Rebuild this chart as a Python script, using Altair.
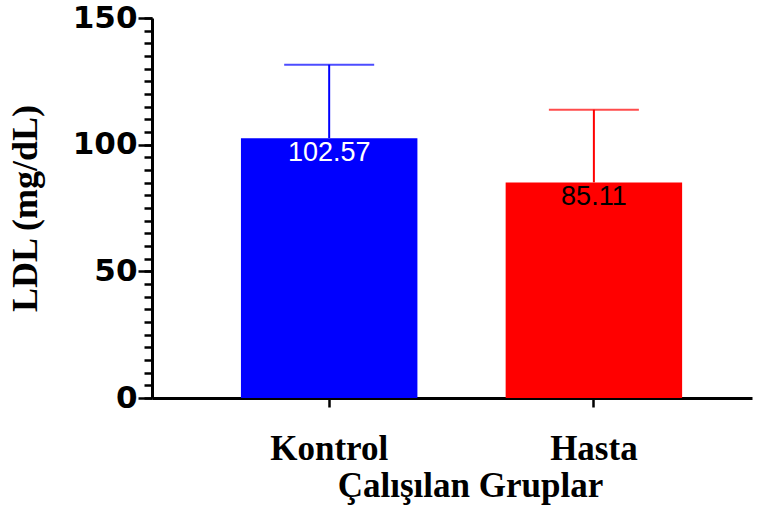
import altair as alt
import pandas as pd

# Group means and standard deviations of LDL (mg/dL)
groups = ["Kontrol", "Hasta"]
means = [102.57, 85.11]
sds = [29.0, 28.7]
bar_colors = ["#0000FF", "#FF0000"]
label_colors = ["#FFFFFF", "#000000"]

df = pd.DataFrame({
    "grup": groups,
    "ldl": means,
    "sd": sds,
    "renk": bar_colors,
    "yazi": label_colors,
})
df["ust"] = df["ldl"] + df["sd"]
df["etiket"] = df["ldl"].map(lambda v: f"{v:.2f}")

x_scale = alt.Scale(domain=groups, paddingInner=1/3, paddingOuter=0.3, align=0.56)
y_scale = alt.Scale(domain=[0, 150], nice=False)

x_axis = alt.Axis(
    title="Çalışılan Gruplar", labelAngle=0,
    labelFont="Liberation Serif", labelFontWeight="bold", labelFontSize=35,
    labelColor="black", labelPadding=24,
    titleFont="Liberation Serif", titleFontWeight="bold", titleFontSize=35,
    titleColor="black", titlePadding=2, titleX=318,
    domainColor="black", domainWidth=3, tickColor="black", tickWidth=2.5, tickSize=9,
    grid=False,
)


def x_enc():
    return alt.X("grup:N", scale=x_scale, sort=groups, axis=x_axis)


bars = alt.Chart(df).mark_bar().encode(
    x=x_enc(),
    y=alt.Y(
        "ldl:Q", scale=y_scale,
        axis=alt.Axis(
            title="LDL (mg/dL)", orient="left", values=[0, 50, 100, 150],
            labelFont="DejaVu Sans", labelFontWeight="bold", labelFontSize=31,
            labelColor="black", labelPadding=1,
            titleFont="Liberation Serif", titleFontWeight="bold", titleFontSize=36,
            titleColor="black", titlePadding=28,
            domainColor="black", domainWidth=3, tickColor="black", tickWidth=2.5, tickSize=14,
            grid=False,
        ),
    ),
    color=alt.Color("renk:N", scale=None),
)

# Minor ticks every 5 units on the value axis
minor = alt.Chart(df).mark_bar(opacity=0).encode(
    x=x_enc(),
    y=alt.Y(
        "ldl:Q", scale=y_scale,
        axis=alt.Axis(
            title=None, orient="left", values=list(range(0, 151, 5)),
            labels=False, domain=False, grid=False,
            tickColor="black", tickWidth=2.5, tickSize=8,
        ),
    ),
)

err = alt.Chart(df).mark_rule(strokeWidth=2).encode(
    x=x_enc(),
    y=alt.Y("ldl:Q", scale=y_scale, axis=None),
    y2="ust:Q",
    color=alt.Color("renk:N", scale=None),
)

caps = alt.Chart(df).mark_tick(size=90, thickness=2, orient="horizontal").encode(
    x=x_enc(),
    y=alt.Y("ust:Q", scale=y_scale, axis=None),
    color=alt.Color("renk:N", scale=None),
)

labels = alt.Chart(df).mark_text(
    font="Liberation Sans", fontSize=27, baseline="top", dy=2
).encode(
    x=x_enc(),
    y=alt.Y("ldl:Q", scale=y_scale, axis=None),
    text="etiket:N",
    color=alt.Color("yazi:N", scale=None),
)

chart = (
    alt.layer(bars, minor, err, caps, labels)
    .resolve_axis(y="independent")
    .properties(
        width=600, height=380,
        background="white",
        autosize=alt.AutoSizeParams(type="none"),
        padding={"left": 152, "top": 18, "right": 11, "bottom": 120},
    )
    .configure_view(stroke="transparent", strokeWidth=0)
)

chart.save("out.html", embed_options={"renderer": "svg", "actions": False})
